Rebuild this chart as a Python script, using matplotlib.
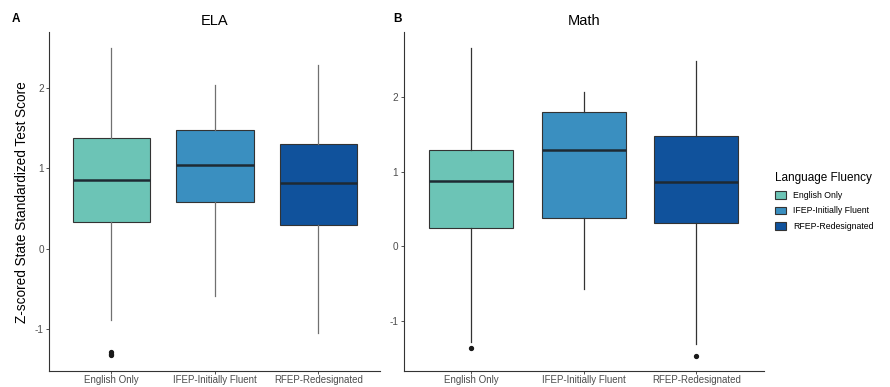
import matplotlib.pyplot as plt
from matplotlib.patches import Patch

plt.rcParams['font.family'] = ['Liberation Sans', 'DejaVu Sans']

# groups and colours
groups = ['English Only', 'IFEP-Initially Fluent', 'RFEP-Redesignated']
colors = ['#6cc4b6', '#3a8fc0', '#10529c']

# ELA box statistics: lower whisker, Q1, median, Q3, upper whisker
ela_whislo = [-0.88, -0.59, -1.05]
ela_q1 = [0.33, 0.58, 0.30]
ela_med = [0.85, 1.04, 0.82]
ela_q3 = [1.38, 1.48, 1.30]
ela_whishi = [2.49, 2.04, 2.29]
ela_fliers = [[-1.28, -1.30, -1.32], [], []]

# Math box statistics
math_whislo = [-1.28, -0.57, -1.30]
math_q1 = [0.25, 0.38, 0.31]
math_med = [0.87, 1.29, 0.86]
math_q3 = [1.29, 1.79, 1.47]
math_whishi = [2.65, 2.06, 2.48]
math_fliers = [[-1.36], [], [-1.46]]


def make_stats(lo, q1, med, q3, hi, fliers):
    return [dict(label=g, whislo=lo[i], q1=q1[i], med=med[i], q3=q3[i],
                 whishi=hi[i], fliers=fliers[i])
            for i, g in enumerate(groups)]


def draw_panel(ax, stats, ylim, title, tag, tag_x, line_col):
    bp = ax.bxp(stats, positions=[1, 2, 3], widths=0.75, patch_artist=True,
                showcaps=False,
                boxprops=dict(edgecolor='#333333', linewidth=0.8),
                medianprops=dict(color='#1e2a33', linewidth=1.8),
                whiskerprops=dict(color=line_col, linewidth=0.9),
                flierprops=dict(marker='o', markersize=2.8,
                                markerfacecolor='#1a1a1a',
                                markeredgecolor='#1a1a1a'))
    for box, c in zip(bp['boxes'], colors):
        box.set_facecolor(c)
    ax.set_xlim(0.4, 3.6)
    ax.set_ylim(*ylim)
    ax.set_yticks([-1, 0, 1, 2])
    ax.set_yticklabels(['-1', '0', '1', '2'])
    for s in ['top', 'right']:
        ax.spines[s].set_visible(False)
    for s in ['left', 'bottom']:
        ax.spines[s].set_color('#333333')
        ax.spines[s].set_linewidth(0.8)
    ax.tick_params(colors='#333333', labelcolor='#4d4d4d', labelsize=7.2,
                   length=2, width=0.6, pad=2)
    ax.tick_params(axis='x', labelsize=7.0, pad=0.8)
    ax.set_title(title, fontsize=10.5, pad=5)
    ax.text(tag_x, 1.04, tag, transform=ax.transAxes, fontsize=8.5,
            fontweight='bold', ha='left', va='center')


fig = plt.figure(figsize=(8.9, 3.87), dpi=100)
ax1 = fig.add_axes([0.0554, 0.0405, 0.3721, 0.876])
ax2 = fig.add_axes([0.4536, 0.0405, 0.4045, 0.876])

draw_panel(ax1, make_stats(ela_whislo, ela_q1, ela_med, ela_q3, ela_whishi, ela_fliers),
           (-1.52, 2.69), 'ELA', 'A', -0.115, '#707070')
draw_panel(ax2, make_stats(math_whislo, math_q1, math_med, math_q3, math_whishi, math_fliers),
           (-1.667, 2.86), 'Math', 'B', -0.03, '#333333')

ax1.set_ylabel('Z-scored State Standardized Test Score', fontsize=9.8, labelpad=4)

handles = [Patch(facecolor=c, edgecolor='#333333', linewidth=0.8) for c in colors]
fig.legend(handles, groups, title='Language Fluency', loc='upper left',
           bbox_to_anchor=(0.862, 0.575), frameon=False, fontsize=6.3,
           title_fontsize=8.5, handlelength=1.3, handleheight=1.0,
           handletextpad=0.8, labelspacing=0.75, alignment='left')

fig.savefig('out.png', dpi=100)
